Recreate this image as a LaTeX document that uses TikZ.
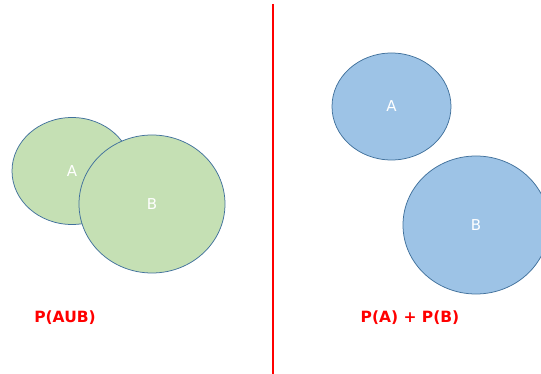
\documentclass[tikz,border=0pt]{standalone}
\usepackage{fontspec}
\setmainfont{DejaVu Sans}
\usetikzlibrary{shapes.geometric}
\definecolor{setgreen}{HTML}{C5E0B4}
\definecolor{setblue}{HTML}{9DC3E6}
\definecolor{setedge}{HTML}{41719C}
\tikzstyle{set} = [ellipse, draw=setedge, line width=0.75pt, inner sep=0pt,
    text=white, font=\fontsize{15}{17}\selectfont]
\tikzstyle{prob} = [text=red, font=\fontsize{15.5}{18}\selectfont\bfseries]

\begin{document}
\begin{tikzpicture}[x=1pt,y=-1pt]
  \useasboundingbox (0,0) rectangle (541,374);
  \clip (0,0) rectangle (541,374);
  % union: overlapping sets
  \node[set,fill=setgreen,minimum width=120pt,minimum height=107pt] (lA) at (72,171) {A};
  \node[set,fill=setgreen,minimum width=146pt,minimum height=138pt] (lB) at (152,204) {B};
  \node[prob] (union) at (65,318) {P(AUB)};
  % sum: disjoint sets
  \node[set,fill=setblue,minimum width=119pt,minimum height=107pt] (rA) at (391.5,106.5) {A};
  \node[set,fill=setblue,minimum width=146pt,minimum height=138pt] (rB) at (476,225) {B};
  \node[prob] (sum) at (410,318) {P(A) + P(B)};
  % divider
  \coordinate (top) at (273,4);
  \coordinate (bottom) at (273,374);
  \draw[red, line width=1.2pt] (top) -- (bottom);
\end{tikzpicture}
\end{document}
